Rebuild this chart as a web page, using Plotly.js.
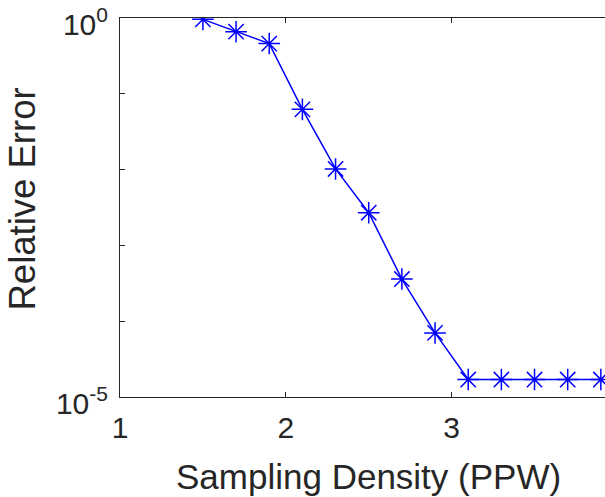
<!DOCTYPE html>
<html>
<head>
<meta charset="utf-8">
<script src="https://cdn.plot.ly/plotly-3.0.1.min.js"></script>
<style>html,body{margin:0;padding:0;background:#fff;}#chart{width:605px;height:497px;}</style>
</head>
<body>
<div id="chart"></div>
<script>
const density = [1.5, 1.7, 1.9, 2.1, 2.3, 2.5, 2.7, 2.9, 3.1, 3.3, 3.5, 3.7, 3.9];
const relError = [0.96, 0.66, 0.46, 0.0624, 0.0102, 0.0027, 3.6e-4, 7.0e-5, 1.7e-5, 1.7e-5, 1.7e-5, 1.7e-5, 1.7e-5];
const xTicks = [1, 2, 3];
const yTickVals = [1e-5, 1e-4, 1e-3, 1e-2, 1e-1, 1];
const yTickText = ['10<sup>-5</sup>', '', '', '', '', '10<sup>0</sup>'];

const axisColor = '#262626';
const fontFam = '"Liberation Sans", Arial, Helvetica, sans-serif';

const trace = {
  x: density,
  y: relError,
  type: 'scatter',
  mode: 'lines+markers',
  line: {color: '#0000ff', width: 1.5},
  marker: {symbol: 'asterisk-open', size: 18, color: '#0000ff', line: {color: '#0000ff', width: 1.5}},
  cliponaxis: true,
  showlegend: false
};

const layout = {
  width: 605,
  height: 497,
  margin: {l: 120, r: 0, t: 18, b: 100, pad: 0},
  paper_bgcolor: '#ffffff',
  plot_bgcolor: '#ffffff',
  font: {family: fontFam, color: axisColor, size: 30},
  xaxis: {
    range: [1, 3.925],
    tickvals: xTicks,
    ticktext: xTicks.map(String),
    ticks: 'inside',
    ticklen: 5,
    tickwidth: 1,
    tickcolor: axisColor,
    showline: true,
    linecolor: axisColor,
    linewidth: 1,
    mirror: 'ticks',
    showgrid: false,
    zeroline: false,
    tickfont: {size: 30, family: fontFam, color: axisColor},
    ticklabelstandoff: 4
  },
  yaxis: {
    type: 'log',
    range: [-5, 0],
    tickvals: yTickVals,
    ticktext: yTickText,
    ticks: 'inside',
    ticklen: 5,
    tickwidth: 1,
    tickcolor: axisColor,
    showline: true,
    linecolor: axisColor,
    linewidth: 1,
    mirror: false,
    showgrid: false,
    zeroline: false,
    tickfont: {size: 30, family: fontFam, color: axisColor},
    ticklabelstandoff: 5,
    ticklabelshift: 6,
    ticklabeloverflow: 'allow'
  },
  annotations: [
    {
      text: 'Sampling Density (PPW)',
      xref: 'x', x: 2.5,
      yref: 'paper', y: 0,
      yanchor: 'top', xanchor: 'center',
      yshift: -58,
      showarrow: false,
      font: {size: 35, family: fontFam, color: axisColor}
    },
    {
      text: 'Relative Error',
      xref: 'paper', x: 0,
      yref: 'paper', y: 0.5,
      xanchor: 'center', yanchor: 'middle',
      xshift: -98, yshift: 8,
      textangle: -90,
      showarrow: false,
      font: {size: 36.5, family: fontFam, color: axisColor}
    }
  ]
};

Plotly.newPlot('chart', [trace], layout, {staticPlot: true, displayModeBar: false});
</script>
</body>
</html>
